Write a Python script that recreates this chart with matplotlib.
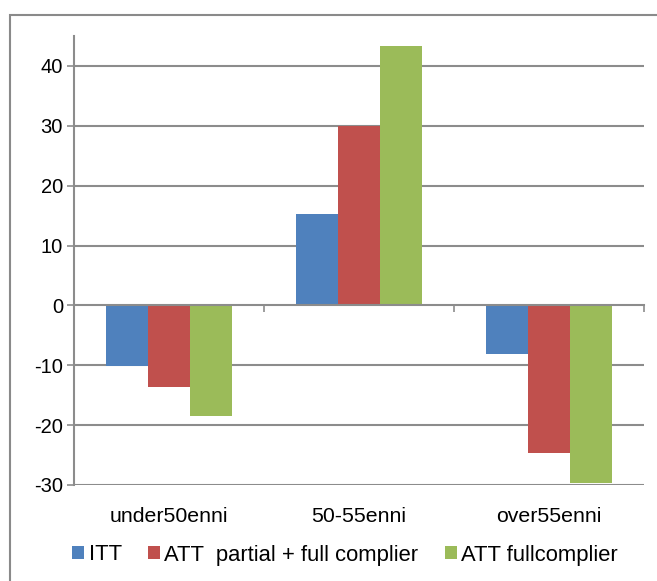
import numpy as np
import matplotlib
matplotlib.use('Agg')
import matplotlib.pyplot as plt
from matplotlib.patches import Rectangle

plt.rcParams['font.family'] = ['Liberation Sans', 'DejaVu Sans']
plt.rcParams['axes.unicode_minus'] = False

# data
categories = ['under50enni', '50-55enni', 'over55enni']
series_names = ['ITT', 'ATT  partial + full complier', 'ATT fullcomplier']
itt = [-10.1, 15.2, -8.2]
att_partial = [-13.7, 30.0, -24.6]
att_full = [-18.5, 43.3, -29.6]
yticks = [-30, -20, -10, 0, 10, 20, 30, 40]

colors = ['#4F81BD', '#C0504D', '#9BBB59']
grid_c = '#8C8C8C'

fig = plt.figure(figsize=(6.57, 5.81), dpi=100)
ax = fig.add_axes([74 / 657, 1 - 485 / 581, (644 - 74) / 657, (485 - 36) / 581])

# outer chart frame (cut off at right/bottom in the reference)
fig.patches.append(Rectangle((10 / 657, -0.05), 1.2, 1 - 15 / 581 + 0.05,
                             transform=fig.transFigure, fill=False,
                             edgecolor='#8A8A8A', lw=1.5))

x = np.arange(len(categories))
w = 1 / 4.5
for k, vals in enumerate([itt, att_partial, att_full]):
    ax.bar(x + (k - 1) * w, vals, width=w, color=colors[k], label=series_names[k], zorder=3)

ax.set_xlim(-0.5, 2.5)
ax.set_ylim(-30, 45)
ax.set_yticks(yticks)
ax.tick_params(axis='y', labelsize=14.5, length=5, width=1.2, color=grid_c, pad=3)
for t in yticks:
    if t != 0:
        ax.axhline(t, color=grid_c, lw=1.5, zorder=1)

for s in ['top', 'right']:
    ax.spines[s].set_visible(False)
ax.spines['left'].set_color(grid_c)
ax.spines['left'].set_linewidth(1.5)
ax.spines['bottom'].set_position(('data', 0))
ax.spines['bottom'].set_color(grid_c)
ax.spines['bottom'].set_linewidth(1.5)
ax.spines['bottom'].set_zorder(4)

ax.set_xticks([0.5, 1.5, 2.5])
ax.set_xticklabels([])
ax.tick_params(axis='x', length=5, width=1.2, color=grid_c, direction='out')

for i, c in enumerate(categories):
    ax.annotate(c, xy=(i, -30), xytext=(0, -23), textcoords='offset points',
                ha='center', va='center', fontsize=15.3)

ax.legend(loc='center', bbox_to_anchor=(345 / 657, 1 - 555 / 581), bbox_transform=fig.transFigure,
          ncol=3, frameon=False, fontsize=15.8, handlelength=0.55, handleheight=0.55,
          handletextpad=0.2, columnspacing=1.2, borderpad=0, borderaxespad=0)

fig.savefig('out.png', dpi=100)
